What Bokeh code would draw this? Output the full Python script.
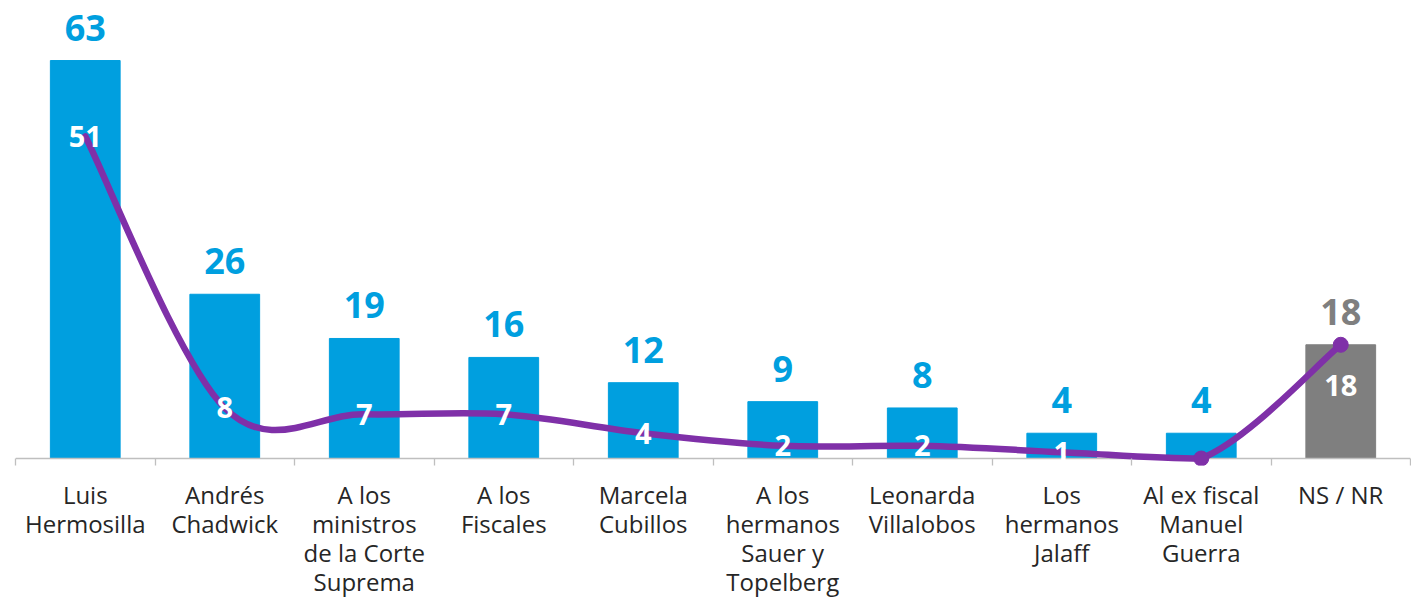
from bokeh.plotting import figure
from bokeh.models import Range1d, FixedTicker
from bokeh.core.properties import value
from bokeh.embed import file_html
from bokeh.resources import INLINE

categories = ["Luis\nHermosilla", "Andrés\nChadwick", "A los\nministros\nde la Corte\nSuprema",
              "A los\nFiscales", "Marcela\nCubillos", "A los\nhermanos\nSauer y\nTopelberg",
              "Leonarda\nVillalobos", "Los\nhermanos\nJalaff", "Al ex fiscal\nManuel\nGuerra", "NS / NR"]
bar_values = [63, 26, 19, 16, 12, 9, 8, 4, 4, 18]
line_values = [51, 8, 7, 7, 4, 2, 2, 1, 0, 18]

BLUE = "#009FDF"
GRAY = "#7F7F7F"
PURPLE = "#7F30A8"
FONT = "Open Sans"

n = len(categories)
xs = [i + 1 for i in range(n)]
bar_colors = [GRAY if c == "NS / NR" else BLUE for c in categories]

p = figure(frame_width=1395, frame_height=457, output_backend="svg", toolbar_location=None,
           x_range=Range1d(0.5, n + 0.5), y_range=Range1d(-7 / 6.317, 450 / 6.317),
           min_border_left=15, min_border_right=1, min_border_top=8, min_border_bottom=133)
p.outline_line_color = None
p.xgrid.visible = False
p.ygrid.visible = False
p.yaxis.visible = False
p.background_fill_color = "white"
p.border_fill_color = "white"

p.vbar(x=xs, top=bar_values, width=0.5, color=bar_colors)
p.hspan(y=[0], line_color="#BFBFBF", line_width=1.5)

# smoothed line (Catmull-Rom style bezier, control points kept inside the plot area)
x0s, y0s, x1s, y1s, cx0s, cy0s, cx1s, cy1s = [], [], [], [], [], [], [], []
for i in range(n - 1):
    ip, inx = max(i - 1, 0), min(i + 2, n - 1)
    x0s.append(xs[i]); y0s.append(line_values[i])
    x1s.append(xs[i + 1]); y1s.append(line_values[i + 1])
    cx0s.append(xs[i] + (xs[i + 1] - xs[ip]) / 6)
    cy0s.append(max(0, line_values[i] + (line_values[i + 1] - line_values[ip]) / 6))
    cx1s.append(xs[i + 1] - (xs[inx] - xs[i]) / 6)
    cy1s.append(max(0, line_values[i + 1] - (line_values[inx] - line_values[i]) / 6))
p.bezier(x0=x0s, y0=y0s, x1=x1s, y1=y1s, cx0=cx0s, cy0=cy0s, cx1=cx1s, cy1=cy1s,
         line_color=PURPLE, line_width=6.5, line_cap="round")

mk = [i for i in range(n) if i >= n - 2]
p.scatter(x=[xs[i] for i in mk], y=[line_values[i] for i in mk], size=15,
          fill_color=PURPLE, line_color=PURPLE)

# bar value labels
p.text(x=xs, y=bar_values, text=[str(v) for v in bar_values], text_color=bar_colors,
       text_align="center", text_baseline="bottom", y_offset=-20,
       text_font=value(FONT), text_font_style="bold", text_font_size="36px")

# line value labels
lab = [i for i in range(n - 2)]
p.text(x=[xs[i] for i in lab], y=[line_values[i] for i in lab],
       text=[str(line_values[i]) for i in lab], text_color="white",
       text_align="center", text_baseline="middle",
       text_font=value(FONT), text_font_style="bold", text_font_size="29px")
p.text(x=[xs[n - 1]], y=[line_values[n - 1]], text=[str(line_values[n - 1])], text_color="white",
       text_align="center", text_baseline="middle", y_offset=41,
       text_font=value(FONT), text_font_style="bold", text_font_size="29px")

ax = p.xaxis[0]
ax.ticker = FixedTicker(ticks=xs, minor_ticks=[x - 0.5 for x in xs] + [xs[-1] + 0.5])
ax.major_label_overrides = {x: c for x, c in zip(xs, categories)}
ax.axis_line_color = None
ax.major_tick_in = 0
ax.major_tick_out = 0
ax.minor_tick_in = 7
ax.minor_tick_out = 0
ax.minor_tick_line_color = "#BFBFBF"
ax.minor_tick_line_width = 1.3
ax.major_label_standoff = 12
ax.major_label_text_font = FONT
ax.major_label_text_font_size = "24px"
ax.major_label_text_line_height = 0.88
ax.major_label_text_color = "#262626"

open("out.html", "w").write(file_html(p, INLINE))
